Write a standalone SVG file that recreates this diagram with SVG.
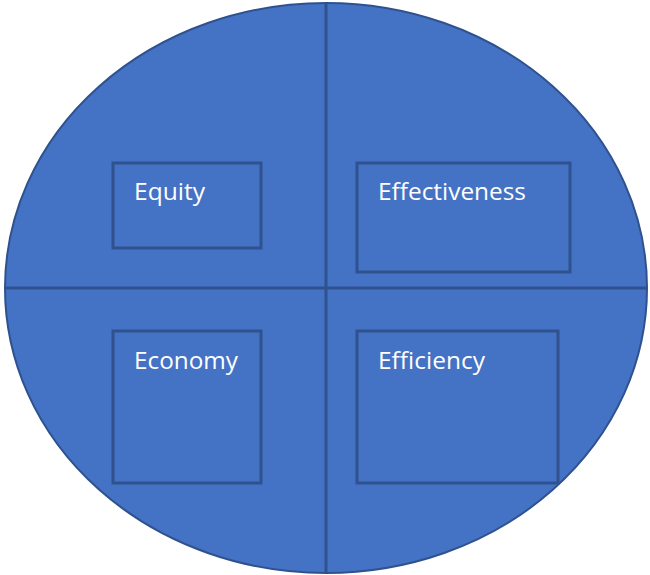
<svg xmlns="http://www.w3.org/2000/svg" width="650" height="575" viewBox="0 0 650 575">
<style>
.shape{fill:#4472C4;stroke:#2F528F;stroke-width:2}
.box{fill:#4472C4;stroke:#2F528F;stroke-width:3}
.line{stroke:#2F528F;stroke-width:3;fill:none}
.lbl{font-family:"Open Sans","Liberation Sans",sans-serif;font-size:24px;fill:#FFFFFF}
</style>
<rect width="650" height="575" fill="#FFFFFF"/>
<g id="circle"><ellipse class="shape" cx="326" cy="288" rx="321" ry="285"/></g>
<g id="connectors">
<line class="line" x1="326" y1="3" x2="326" y2="573"/>
<line class="line" x1="5" y1="288" x2="647" y2="288"/>
</g>
<g id="equity"><rect class="box" x="113" y="163" width="148" height="85"/><text class="lbl" x="134" y="200" textLength="71" lengthAdjust="spacingAndGlyphs">Equity</text></g>
<g id="effectiveness"><rect class="box" x="357" y="163" width="213" height="109"/><text class="lbl" x="378" y="200" textLength="148" lengthAdjust="spacingAndGlyphs">Effectiveness</text></g>
<g id="economy"><rect class="box" x="113" y="331" width="148" height="152"/><text class="lbl" x="134" y="369" textLength="104" lengthAdjust="spacingAndGlyphs">Economy</text></g>
<g id="efficiency"><rect class="box" x="357" y="331" width="201" height="152"/><text class="lbl" x="378" y="369" textLength="107" lengthAdjust="spacingAndGlyphs">Efficiency</text></g>
</svg>
